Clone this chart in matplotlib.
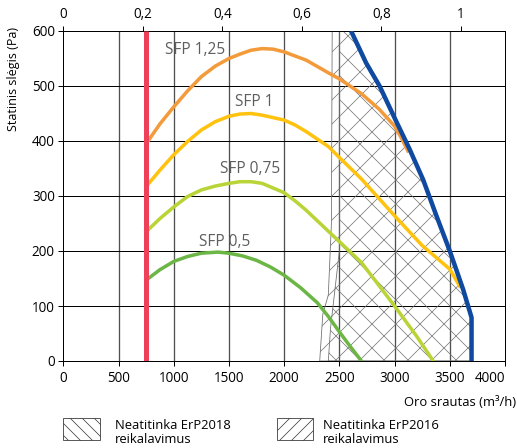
import numpy as np
import matplotlib
matplotlib.use("Agg")
import matplotlib.pyplot as plt
from matplotlib.patches import Polygon, Rectangle

plt.rcParams["font.family"] = ["Open Sans", "DejaVu Sans"]
plt.rcParams["hatch.linewidth"] = 0.7

# data (air flow m3/h, static pressure Pa)
sfp125_x = [750, 875, 1000, 1125, 1250, 1375, 1500, 1600, 1700, 1800, 1900, 2000, 2200, 2400, 2500, 2700, 2860, 3000, 3060, 3120]
sfp125_y = [395, 431, 462, 491, 517, 536, 550, 558, 565, 568, 567, 562, 547, 524, 513, 486, 458, 427, 406, 382]
sfp1_x = [750, 875, 1000, 1125, 1250, 1375, 1500, 1600, 1700, 1800, 2000, 2100, 2200, 2400, 2500, 2700, 3000, 3250, 3500, 3590]
sfp1_y = [317, 347, 375, 399, 420, 435, 445, 449, 450, 447, 438, 429, 417, 390, 370, 331, 264, 210, 167, 136]
sfp075_x = [750, 875, 1000, 1125, 1250, 1375, 1500, 1600, 1700, 1800, 2000, 2100, 2200, 2400, 2500, 2700, 3000, 3200, 3350]
sfp075_y = [235, 259, 280, 299, 311, 318, 323, 326, 326, 323, 306, 291, 274, 236, 217, 179, 100, 45, 0]
sfp05_x = [750, 875, 1000, 1125, 1250, 1400, 1500, 1625, 1750, 1875, 2000, 2150, 2300, 2400, 2500, 2600, 2700]
sfp05_y = [147, 166, 181, 190, 196, 198, 196, 191, 183, 171, 156, 133, 106, 81, 53, 26, 0]
max_x = [2606, 2742, 2864, 3000, 3136, 3258, 3379, 3500, 3621, 3697, 3697]
max_y = [600, 542, 500, 442, 385, 330, 264, 200, 130, 79, 0]
min_flow = 750

erp2016_left_x = [2435, 2428, 2400, 2350, 2322]
erp2016_left_y = [600, 250, 120, 85, 0]
erp2018_left_x = [2500, 2500, 2420, 2400]
erp2018_left_y = [600, 200, 60, 0]

sfp_labels = ["SFP 1,25", "SFP 1", "SFP 0,75", "SFP 0,5"]
label_x = [1195, 1730, 1695, 1458]
label_y = [565, 471, 349, 216]

W, H = 517, 448
fig = plt.figure(figsize=(W / 72, H / 72), dpi=72)
ax = fig.add_axes([63.3 / W, 1 - 361 / H, (505 - 63.3) / W, (361 - 31) / H])

# grid
for gx in range(500, 4000, 500):
    ax.axvline(gx, color="#505050", lw=1.3, zorder=0.5)
for gy in range(100, 600, 100):
    ax.axhline(gy, color="black", lw=1.0, zorder=0.5)

# hatched regions
def region(lx, ly):
    return list(zip(lx, ly)) + [(max_x[-1], 0)] + list(zip(max_x[::-1], max_y[::-1]))

ax.add_patch(Polygon(region(erp2016_left_x, erp2016_left_y), closed=True, facecolor="none",
                     edgecolor="#707070", hatch="/", lw=0.8, zorder=1))
ax.add_patch(Polygon(region(erp2018_left_x, erp2018_left_y), closed=True, facecolor="none",
                     edgecolor="#707070", hatch="\\", lw=0.8, zorder=1))

ax.plot(sfp125_x, sfp125_y, color="#f39a3b", lw=3.5, zorder=3)
ax.plot(sfp1_x, sfp1_y, color="#ffc20f", lw=3.5, zorder=3)
ax.plot(sfp075_x, sfp075_y, color="#b8d437", lw=3.5, zorder=3)
ax.plot(sfp05_x, sfp05_y, color="#6cb646", lw=3.5, zorder=3)
ax.plot(max_x, max_y, color="#0f4aa0", lw=4.5, zorder=4, solid_capstyle="butt")
ax.plot([min_flow, min_flow], [0, 600], color="#ee4058", lw=5, zorder=4, solid_capstyle="butt")

for t, lx, ly in zip(sfp_labels, label_x, label_y):
    ax.text(lx, ly, t, color="#5e5e5e", fontsize=15.5, ha="center", va="center", zorder=5)

ax.set_xlim(0, 4000)
ax.set_ylim(0, 600)
ax.set_xticks(range(0, 4001, 500))
ax.set_yticks(range(0, 601, 100))
ax.tick_params(axis="both", labelsize=13.5, length=5, width=1, color="black")
ax.tick_params(axis="x", pad=5)
ax.get_xticklabels()[-1].set_horizontalalignment("right")
for s in ax.spines.values():
    s.set_linewidth(1.0)

top = ax.secondary_xaxis("top", functions=(lambda x: x / 3600, lambda x: x * 3600))
top.set_xticks([0, 0.2, 0.4, 0.6, 0.8, 1])
top.set_xticklabels(["0", "0,2", "0,4", "0,6", "0,8", "1"])
top.tick_params(labelsize=13.5, length=5, width=1)

fig.text(14 / W, 1 - 79 / H, "Statinis slėgis (Pa)", rotation=90, ha="center", va="center", fontsize=12.5)
fig.text(516 / W, 1 - 403 / H, "Oro srautas (m³/h)", ha="right", va="center", fontsize=13)

# legend
fig.patches.append(Rectangle((63 / W, 1 - 440 / H), 37 / W, 22 / H, transform=fig.transFigure,
                             facecolor="white", edgecolor="#333333", hatch="\\\\", lw=0.8))
fig.patches.append(Rectangle((277 / W, 1 - 440 / H), 36 / W, 22 / H, transform=fig.transFigure,
                             facecolor="white", edgecolor="#333333", hatch="//", lw=0.8))
fig.text(115 / W, 1 - 432.5 / H, "Neatitinka ErP2018\nreikalavimus", ha="left", va="center",
         fontsize=13, linespacing=1.05)
fig.text(323 / W, 1 - 432.5 / H, "Neatitinka ErP2016\nreikalavimus", ha="left", va="center",
         fontsize=13, linespacing=1.05)

fig.savefig("out.png", dpi=72)
